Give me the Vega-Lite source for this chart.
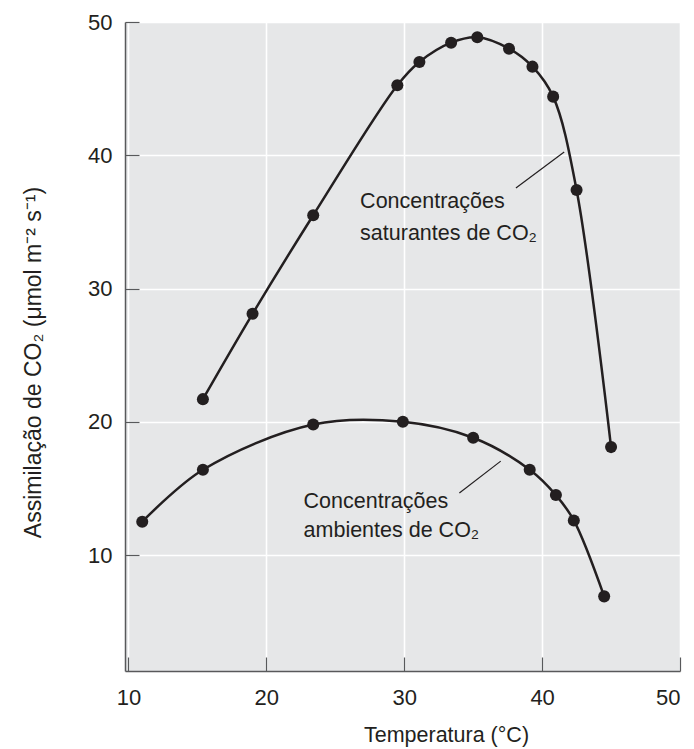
{
  "$schema": "https://vega.github.io/schema/vega-lite/v6.json",
  "width": 555,
  "height": 649,
  "autosize": "none",
  "padding": {"left": 125, "top": 22, "right": 14, "bottom": 78},
  "background": "white",
  "config": {
    "view": {"fill": "#e6e7e8", "stroke": null},
    "font": "Liberation Sans",
    "axis": {
      "gridColor": "white",
      "gridWidth": 1.6,
      "domainColor": "#58595b",
      "domainWidth": 1.5,
      "tickColor": "#58595b",
      "tickWidth": 1.2,
      "tickSize": -14,
      "labelFont": "Liberation Sans",
      "labelFontSize": 22,
      "labelColor": "#231f20",
      "titleFont": "Liberation Sans",
      "titleFontSize": 21.5,
      "titleFontWeight": "normal",
      "titleColor": "#231f20"
    }
  },
  "datasets": {
    "pts": [
      {"serie": "saturantes", "temp": 15.4, "a": 21.7},
      {"serie": "saturantes", "temp": 19.0, "a": 28.1},
      {"serie": "saturantes", "temp": 23.4, "a": 35.5},
      {"serie": "saturantes", "temp": 29.5, "a": 45.25},
      {"serie": "saturantes", "temp": 31.1, "a": 47.0},
      {"serie": "saturantes", "temp": 33.4, "a": 48.45},
      {"serie": "saturantes", "temp": 35.3, "a": 48.85},
      {"serie": "saturantes", "temp": 37.6, "a": 48.0},
      {"serie": "saturantes", "temp": 39.3, "a": 46.65},
      {"serie": "saturantes", "temp": 40.8, "a": 44.4},
      {"serie": "saturantes", "temp": 42.5, "a": 37.4},
      {"serie": "saturantes", "temp": 45.0, "a": 18.1},
      {"serie": "ambientes", "temp": 11.0, "a": 12.5},
      {"serie": "ambientes", "temp": 15.4, "a": 16.4},
      {"serie": "ambientes", "temp": 23.4, "a": 19.8},
      {"serie": "ambientes", "temp": 29.9, "a": 20.0},
      {"serie": "ambientes", "temp": 35.0, "a": 18.8},
      {"serie": "ambientes", "temp": 39.1, "a": 16.4},
      {"serie": "ambientes", "temp": 41.0, "a": 14.5},
      {"serie": "ambientes", "temp": 42.3, "a": 12.6},
      {"serie": "ambientes", "temp": 44.5, "a": 6.9}
    ],
    "labels": [
      {"temp": 26.8, "a": 36.5, "text": "Concentrações"},
      {"temp": 26.8, "a": 34.1, "text": "saturantes de CO₂"},
      {"temp": 22.7, "a": 14.0, "text": "Concentrações"},
      {"temp": 22.7, "a": 11.8, "text": "ambientes de CO₂"}
    ],
    "leaders": [
      {"temp": 38.1, "a": 37.55, "temp2": 41.6, "a2": 40.25},
      {"temp": 34.0, "a": 14.65, "temp2": 37.0, "a2": 17.05}
    ]
  },
  "layer": [
    {
      "data": {"name": "pts"},
      "mark": {"type": "line", "interpolate": "catmull-rom", "color": "#231f20", "strokeWidth": 2.5},
      "encoding": {
        "x": {
          "field": "temp", "type": "quantitative",
          "scale": {"domain": [9.75, 50], "nice": false, "zero": false},
          "axis": {
            "values": [10, 20, 30, 40, 50],
            "title": "Temperatura (°C)",
            "labelPadding": 30,
            "titleX": 321, "titleY": 70.5, "titleBaseline": "alphabetic", "titleAnchor": null
          }
        },
        "y": {
          "field": "a", "type": "quantitative",
          "scale": {"domain": [1.3, 50], "nice": false, "zero": false},
          "axis": {
            "values": [10, 20, 30, 40, 50],
            "title": "Assimilação de CO₂ (μmol m⁻² s⁻¹)",
            "titleFontSize": 23,
            "labelPadding": 27,
            "titleX": -92, "titleY": 340, "titleAngle": -90, "titleBaseline": "middle", "titleAlign": "center"
          }
        },
        "detail": {"field": "serie"}
      }
    },
    {
      "data": {"name": "pts"},
      "mark": {"type": "circle", "size": 145, "color": "#231f20", "opacity": 1},
      "encoding": {
        "x": {"field": "temp", "type": "quantitative"},
        "y": {"field": "a", "type": "quantitative"}
      }
    },
    {
      "data": {"name": "leaders"},
      "mark": {"type": "rule", "color": "#231f20", "strokeWidth": 1.2},
      "encoding": {
        "x": {"field": "temp", "type": "quantitative"},
        "y": {"field": "a", "type": "quantitative"},
        "x2": {"field": "temp2"},
        "y2": {"field": "a2"}
      }
    },
    {
      "data": {"name": "labels"},
      "mark": {"type": "text", "align": "left", "baseline": "middle", "fontSize": 21.5, "color": "#231f20", "font": "Liberation Sans"},
      "encoding": {
        "x": {"field": "temp", "type": "quantitative"},
        "y": {"field": "a", "type": "quantitative"},
        "text": {"field": "text"}
      }
    }
  ]
}
